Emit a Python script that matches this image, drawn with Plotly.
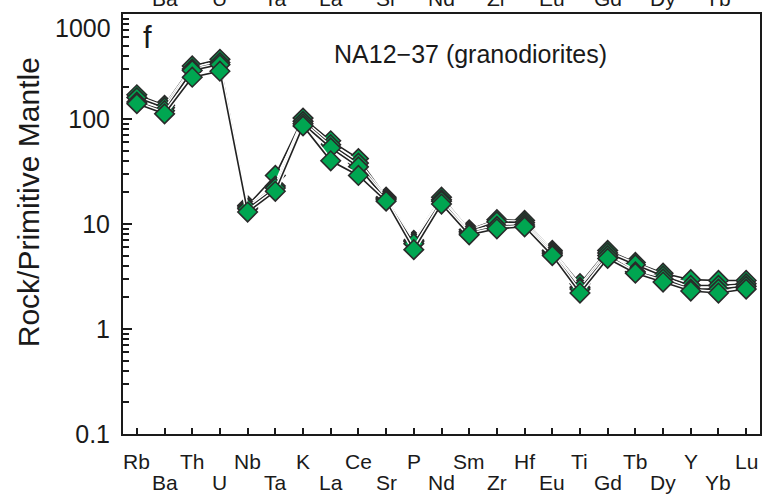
import plotly.graph_objects as go

# Primitive-mantle normalised trace elements, granodiorite samples NA12-37
elements = ["Rb", "Ba", "Th", "U", "Nb", "Ta", "K", "La", "Ce", "Sr", "P", "Nd",
            "Sm", "Zr", "Hf", "Eu", "Ti", "Gd", "Tb", "Dy", "Y", "Yb", "Lu"]

sample_1 = [170, 135, 320, 370, 15.0, 29.0, 102, 62, 42, 18.0, 7.0, 18.0,
            8.8, 11.0, 10.8, 5.6, 2.7, 5.6, 4.3, 3.4, 2.95, 2.9, 2.9]
sample_2 = [160, 128, 300, 345, 14.5, 23.0, 95, 57, 38, 17.5, 6.8, 17.0,
            8.5, 10.5, 10.3, 5.4, 2.5, 5.3, 4.1, 3.2, 2.6, 2.6, 2.7]
sample_3 = [145, 120, 290, 330, 14.0, 22.0, 90, 53, 35, 17.0, 6.5, 16.5,
            8.2, 9.5, 9.8, 5.2, 2.4, 5.0, 3.5, 3.0, 2.4, 2.4, 2.55]
sample_4 = [140, 112, 250, 285, 13.0, 20.5, 86, 40, 29, 16.5, 5.7, 15.5,
            7.9, 9.0, 9.4, 5.0, 2.2, 4.7, 3.4, 2.8, 2.3, 2.2, 2.4]

samples = [sample_1, sample_2, sample_3, sample_4]

y_major = [0.1, 1, 10, 100, 1000]
y_major_text = ["0.1", "1", "10", "100", ""]   # top label placed separately below
y_minor = [m * 10 ** e for e in range(-1, 3) for m in range(2, 10)]

FONT = "Liberation Sans, Arial, sans-serif"
INK = "#1a1a1a"
x_idx = list(range(len(elements)))

fig = go.Figure()
for vals in samples:
    # white casing under each profile line
    fig.add_trace(go.Scatter(x=x_idx, y=vals, mode="lines",
                             line=dict(color="white", width=4.5),
                             hoverinfo="skip", showlegend=False))
    fig.add_trace(go.Scatter(x=x_idx, y=vals, mode="lines+markers",
                             line=dict(color="#222222", width=1.6),
                             marker=dict(symbol="diamond", size=15, color="#00a651",
                                         line=dict(color="#2a2a2a", width=1.6)),
                             showlegend=False))

fig.update_layout(
    width=768, height=495,
    margin=dict(l=123, r=6, t=14, b=61),
    paper_bgcolor="white", plot_bgcolor="white",
    font=dict(family=FONT, color=INK),
    xaxis=dict(range=[-0.5, len(elements) - 0.5], tickmode="array", tickvals=x_idx,
               showticklabels=False, ticks="inside", ticklen=6, tickwidth=1.5,
               tickcolor=INK, showline=True, linecolor=INK, linewidth=2,
               mirror=True, showgrid=False, zeroline=False),
    yaxis=dict(type="log", range=[-1, 3], tickmode="array", tickvals=y_major,
               ticktext=y_major_text, ticks="inside", ticklen=9, tickwidth=1.5,
               tickcolor=INK, tickfont=dict(size=25, family=FONT),
               ticklabelstandoff=6,
               minor=dict(tickmode="array", tickvals=y_minor, ticks="inside",
                          ticklen=6, tickwidth=1.5, tickcolor=INK),
               showline=True, linecolor=INK, linewidth=2, mirror=True,
               showgrid=False, zeroline=False),
)

annotations = []
# element labels, staggered in two rows
for i, name in enumerate(elements):
    annotations.append(dict(x=i, y=-0.065 if i % 2 == 0 else -0.115, xref="x", yref="paper",
                            text=name, showarrow=False, yanchor="middle",
                            font=dict(size=21, family=FONT, color=INK)))
# lower label row of the panel above, cut by the top edge
for i, name in enumerate(elements):
    if i % 2 == 1:
        annotations.append(dict(x=i, y=1.0 + 2 / 420, xref="x", yref="paper",
                                text=name, showarrow=False, yanchor="bottom",
                                font=dict(size=21, family=FONT, color=INK)))
# top decade label, nudged down so it stays on the page
annotations.append(dict(x=-0.016, y=1.0 - 14 / 420, xref="paper", yref="paper",
                        text="1000", showarrow=False, xanchor="right", yanchor="middle",
                        font=dict(size=25, family=FONT, color=INK)))
# y-axis title
annotations.append(dict(x=-0.149, y=0.552, xref="paper", yref="paper",
                        text="Rock/Primitive Mantle", showarrow=False, textangle=-90,
                        xanchor="center", yanchor="middle",
                        font=dict(size=30, family=FONT, color=INK)))
annotations.append(dict(x=0.028, y=0.99, xref="paper", yref="paper", text="f",
                        showarrow=False, xanchor="left", yanchor="top",
                        font=dict(size=31, family=FONT, color=INK)))
annotations.append(dict(x=0.328, y=0.905, xref="paper", yref="paper",
                        text="NA12\u221237 (granodiorites)", showarrow=False,
                        xanchor="left", yanchor="middle",
                        font=dict(size=25, family=FONT, color=INK)))
fig.update_layout(annotations=annotations)

fig.write_html("out.html")
